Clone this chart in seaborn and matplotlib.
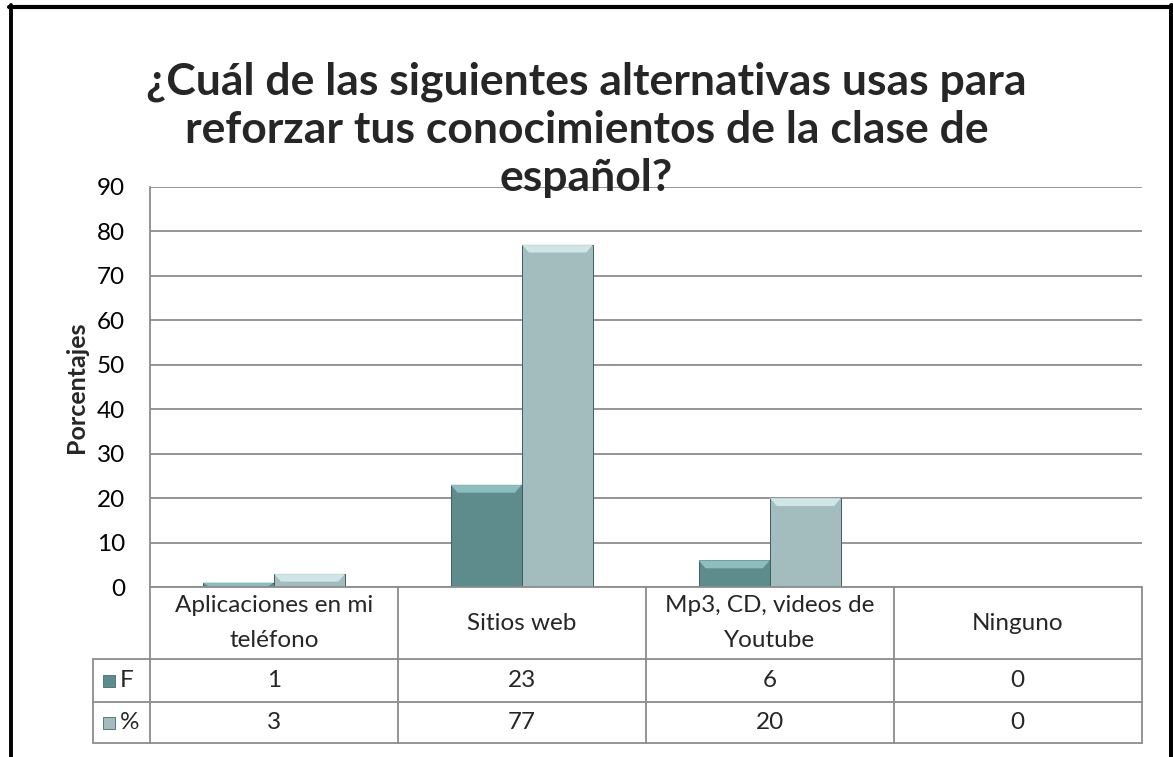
import pandas as pd
import matplotlib.pyplot as plt
import seaborn as sns
from matplotlib.patches import Polygon, Rectangle
from matplotlib.lines import Line2D

# data
categorias = ["Aplicaciones en mi\nteléfono", "Sitios web", "Mp3, CD, videos de\nYoutube", "Ninguno"]
frecuencia = [1, 23, 6, 0]
porcentaje = [3, 77, 20, 0]
series = ["F", "%"]
colores = ["#5E8B8C", "#A3BCBD"]
bevel = ["#93C3C3", "#D6EAEA"]

df = pd.DataFrame({
    "cat": categorias * 2,
    "serie": ["F"] * 4 + ["%"] * 4,
    "valor": frecuencia + porcentaje,
})

sns.set_theme(style="white")
plt.rcParams["font.family"] = ["Lato", "DejaVu Sans"]

W, H = 1173, 757
fig = plt.figure(figsize=(W / 100, H / 100), dpi=100)


def fx(px):
    return px / W


def fy(py):
    return 1 - py / H


x0, x1, ytop, ybot = 150, 1141.7, 186.7, 587
ax = fig.add_axes([fx(x0), fy(ybot), fx(x1 - x0), (ybot - ytop) / H])

sns.barplot(data=df, x="cat", y="valor", hue="serie", order=categorias, hue_order=series,
            palette=colores, width=0.575, gap=0, saturation=1, legend=False, ax=ax,
            edgecolor="#3f5f60", linewidth=0.7)

# bevel on top of each bar
px_per_unit = (ybot - ytop) / 90
for i, bars in enumerate(ax.containers):
    for p in bars:
        h = p.get_height()
        if h <= 0:
            continue
        bx, bw = p.get_x(), p.get_width()
        dh = min(h, 8 / px_per_unit)
        dx = 7 / 247.9
        poly = Polygon([(bx, h), (bx + bw, h), (bx + bw - dx, h - dh), (bx + dx, h - dh)],
                       closed=True, facecolor=bevel[i], edgecolor="none", alpha=0.9, zorder=3)
        ax.add_patch(poly)

ax.set_xlim(-0.5, 3.5)
ax.set_ylim(0, 90)
ax.set_yticks(range(0, 91, 10))
ax.tick_params(axis="y", labelsize=17.5, pad=18, length=0, colors="black")
ax.set_xticks([])
ax.set_xlabel("")
ax.set_ylabel("Porcentajes", fontsize=18, fontweight="bold", labelpad=6)
ax.yaxis.grid(True, color="#8C8C8C", linewidth=1.3)
ax.set_axisbelow(True)
for s in ["top", "right", "bottom"]:
    ax.spines[s].set_visible(False)
ax.spines["left"].set_color("#8C8C8C")
ax.spines["left"].set_linewidth(1.3)

# data table
grey = "#8C8C8C"
col_x = [x0 + (x1 - x0) * k / 4 for k in range(5)]
y_head, y_f, y_p = 659, 702, 743
lab_x = 92.7
fs = 17.5


def hline(xa, xb, y):
    fig.add_artist(Line2D([fx(xa), fx(xb)], [fy(y), fy(y)], color=grey, lw=1.3))


def vline(x, ya, yb):
    fig.add_artist(Line2D([fx(x), fx(x)], [fy(ya), fy(yb)], color=grey, lw=1.3))


hline(x0, x1, ybot)
hline(lab_x, x1, y_head)
hline(lab_x, x1, y_f)
hline(lab_x, x1, y_p)
for cx in col_x:
    vline(cx, ybot, y_p)
vline(lab_x, y_head, y_p)

for k, cat in enumerate(categorias):
    cxm = (col_x[k] + col_x[k + 1]) / 2
    fig.text(fx(cxm), fy((ybot + y_head) / 2), cat, ha="center", va="center",
             fontsize=fs, linespacing=1.8)
    fig.text(fx(cxm), fy((y_head + y_f) / 2), str(frecuencia[k]), ha="center", va="center", fontsize=fs)
    fig.text(fx(cxm), fy((y_f + y_p) / 2), str(porcentaje[k]), ha="center", va="center", fontsize=fs)

for k, (ya, yb) in enumerate([(y_head, y_f), (y_f, y_p)]):
    ym = (ya + yb) / 2
    fig.add_artist(Rectangle((fx(103), fy(ym + 6)), fx(12), 12 / H, facecolor=colores[k],
                             edgecolor="#4a6a6b", lw=0.6))
    fig.text(fx(120), fy(ym), series[k], ha="left", va="center", fontsize=fs)

# title
fig.text(0.5, fy(130), "¿Cuál de las siguientes alternativas usas para\nreforzar tus conocimientos de la clase de\nespañol?",
         ha="center", va="center", fontsize=32, fontweight="bold", linespacing=1.25)

# outer border
fig.add_artist(Line2D([fx(11), fx(11)], [fy(5), -0.05], color="black", lw=2.8))
fig.add_artist(Line2D([fx(1170.5), fx(1170.5)], [fy(5), -0.05], color="black", lw=3.6))
fig.add_artist(Line2D([fx(9), fx(1173)], [fy(7), fy(7)], color="black", lw=3))

fig.savefig("out.png", dpi=100)
